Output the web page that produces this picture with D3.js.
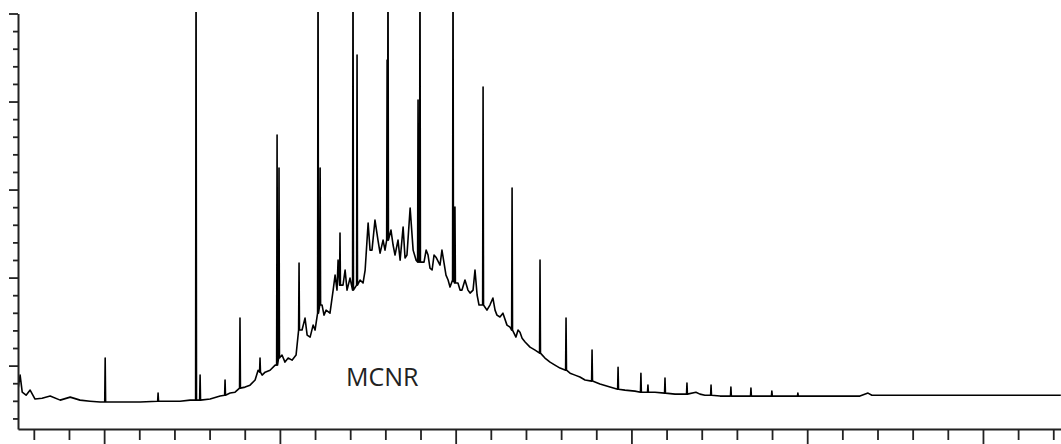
<!DOCTYPE html>
<html>
<head>
<meta charset="utf-8">
<script src="https://cdn.jsdelivr.net/npm/d3@7"></script>
<style>
  html, body { margin: 0; padding: 0; background: #fff; }
  svg { display: block; }
</style>
</head>
<body>
<svg id="chart" width="1061" height="444"></svg>
<script>
// retention time (min) / detector response for the unresolved hump
const envelope = [
  [5.11, -1.28], [5.22, -0.54], [5.34, -1.51], [5.56, -1.68], [5.79, -1.39], [6.07, -1.90],
  [6.47, -1.85], [6.93, -1.73], [7.50, -1.96], [8.07, -1.79], [8.63, -1.96], [9.20, -2.02],
  [9.77, -2.07], [10.91, -2.07], [12.05, -2.07], [13.47, -2.02], [14.32, -2.02], [14.89, -1.96],
  [16.03, -1.90], [16.60, -1.73], [17.17, -1.56], [17.45, -1.51], [18.02, -1.22], [18.30, -1.11],
  [18.59, -0.82], [18.76, -0.26], [18.99, -0.54], [19.16, -0.37], [19.44, -0.26], [19.73, 0.03],
  [20.12, 0.60], [20.29, 0.20], [20.47, 0.43], [20.69, 0.31], [20.92, 0.60], [21.26, 2.02],
  [21.43, 2.70], [21.55, 1.73], [21.72, 1.62], [21.89, 2.30], [22.00, 2.02], [22.40, 3.44],
  [22.51, 2.87], [22.63, 3.15], [22.85, 2.98], [23.03, 4.29], [23.14, 5.14], [23.25, 4.29],
  [23.31, 5.99], [23.59, 4.57], [23.71, 5.43], [23.82, 4.29], [23.99, 4.97], [24.56, 4.86],
  [24.73, 4.69], [24.85, 5.43], [25.02, 8.10], [25.13, 6.56], [25.24, 6.56], [25.41, 8.27],
  [25.58, 7.13], [25.70, 6.39], [25.87, 7.13], [25.98, 6.56], [26.32, 7.70], [26.44, 6.85],
  [26.55, 6.28], [26.72, 7.13], [26.84, 5.99], [27.01, 7.87], [27.12, 6.11], [27.23, 6.28],
  [27.41, 8.95], [27.58, 6.56], [27.75, 5.99], [28.20, 5.88], [28.32, 6.56], [28.43, 6.28],
  [28.54, 5.54], [28.66, 5.43], [28.77, 6.28], [28.88, 6.16], [29.11, 5.71], [29.22, 6.56],
  [29.34, 5.82], [29.45, 5.14], [29.57, 4.86], [29.68, 4.46], [30.13, 4.69], [30.25, 4.29],
  [30.36, 4.29], [30.53, 4.86], [30.70, 4.29], [30.82, 4.12], [30.99, 4.29], [31.10, 5.43],
  [31.22, 4.01], [31.33, 3.44], [31.78, 3.15], [31.95, 3.44], [32.12, 3.84], [32.24, 3.15],
  [32.35, 2.87], [32.52, 2.76], [32.69, 2.98], [32.92, 2.30], [33.09, 2.19], [33.43, 1.62],
  [33.55, 2.02], [33.66, 1.90], [33.78, 1.56], [33.95, 1.34], [34.23, 1.05], [34.52, 0.88],
  [35.08, 0.43], [35.37, 0.20], [35.65, 0.03], [35.94, -0.14], [36.51, -0.43], [36.79, -0.54],
  [37.07, -0.65], [37.36, -0.82], [38.21, -1.05], [38.78, -1.22], [39.63, -1.39], [40.20, -1.45],
  [41.34, -1.51], [42.48, -1.62], [43.67, -1.51], [43.90, -1.62], [44.18, -1.68], [45.04, -1.73],
  [46.18, -1.73], [47.31, -1.73], [48.73, -1.73], [50.73, -1.73], [53.00, -1.73], [53.46, -1.56],
  [53.68, -1.68], [55.28, -1.68], [64.43, -1.68]
];

// resolved peaks: [time, apex, foot]; apex 24 means off scale
const peaks = [
  [10.06, 0.43, -2.07], [13.07, -1.56, -2.02], [15.23, 24, -1.96], [15.46, -0.54, -1.96],
  [16.88, -0.82, -1.68], [17.73, 2.70, -1.28], [18.87, 0.43, -0.37], [19.84, 13.10, 0.03],
  [19.95, 11.22, 0.43], [21.09, 5.82, 2.02], [22.17, 24, 2.98], [22.29, 11.22, 3.44],
  [23.42, 7.53, 4.57], [24.16, 24, 4.29], [24.39, 17.64, 4.57], [26.10, 17.36, 7.13],
  [26.15, 24, 7.13], [27.86, 15.09, 5.88], [27.97, 24, 5.88], [29.85, 24, 4.86],
  [29.96, 9.01, 4.69], [31.56, 15.82, 3.44], [33.21, 10.09, 2.02], [34.80, 5.99, 0.71],
  [36.28, 2.70, -0.26], [37.76, 0.88, -0.88], [39.24, -0.09, -1.34], [40.54, -0.43, -1.51],
  [40.94, -1.11, -1.51], [41.91, -0.71, -1.56], [43.16, -0.99, -1.62], [44.53, -1.11, -1.68],
  [45.66, -1.22, -1.73], [46.80, -1.28, -1.73], [47.99, -1.45, -1.73], [49.47, -1.56, -1.73]
];

const xTicks = d3.range(6, 65, 2);
const yTicks = d3.range(-3, 21, 1);
const label = { text: "MCNR", t: 23.76, v: -1.16 };

const svg = d3.select("#chart");

const x = d3.scaleLinear().domain([5.1, 64.44]).range([18, 1061]);
const y = d3.scaleLinear().domain([-3.6, 20]).range([429, 13.5]);

// build trace: hump points plus a narrow triangle for each peak
const halfW = 0.025;
let trace = envelope.slice();
peaks.forEach(p => {
  trace.push([p[0] - halfW, p[2]], [p[0], p[1]], [p[0] + halfW, p[2]]);
});
trace.sort((a, b) => a[0] - b[0]);

svg.append("clipPath").attr("id", "plotclip")
  .append("rect")
  .attr("x", x.range()[0]).attr("y", 12)
  .attr("width", x.range()[1] - x.range()[0])
  .attr("height", y.range()[0] - 12);

const line = d3.line().x(d => x(d[0])).y(d => y(d[1]));

svg.append("path")
  .datum(trace)
  .attr("clip-path", "url(#plotclip)")
  .attr("fill", "none")
  .attr("stroke", "#000")
  .attr("stroke-width", 1.6)
  .attr("stroke-linejoin", "round")
  .attr("d", line);

// axes
const axisColor = "#222";

const yAxis = svg.append("g")
  .attr("transform", `translate(${x.range()[0]},0)`)
  .call(d3.axisLeft(y).tickValues(yTicks).tickSize(9).tickSizeOuter(0).tickFormat(""));
yAxis.selectAll(".tick line")
  .attr("x2", d => d % 5 === 0 ? -9 : -5);

const xAxis = svg.append("g")
  .attr("transform", `translate(0,${y.range()[0]})`)
  .call(d3.axisBottom(x).tickValues(xTicks).tickSize(11).tickSizeOuter(0).tickFormat(""));
xAxis.selectAll(".tick line")
  .attr("y2", d => d % 10 === 0 ? 16 : 11);

svg.selectAll(".domain").attr("stroke", axisColor).attr("stroke-width", 2);
svg.selectAll(".tick line").attr("stroke", axisColor).attr("stroke-width", 1.8);

svg.append("text")
  .attr("x", x(label.t))
  .attr("y", y(label.v))
  .attr("font-family", "'Open Sans', sans-serif")
  .attr("font-size", 25)
  .attr("fill", "#222")
  .text(label.text);
</script>
</body>
</html>
